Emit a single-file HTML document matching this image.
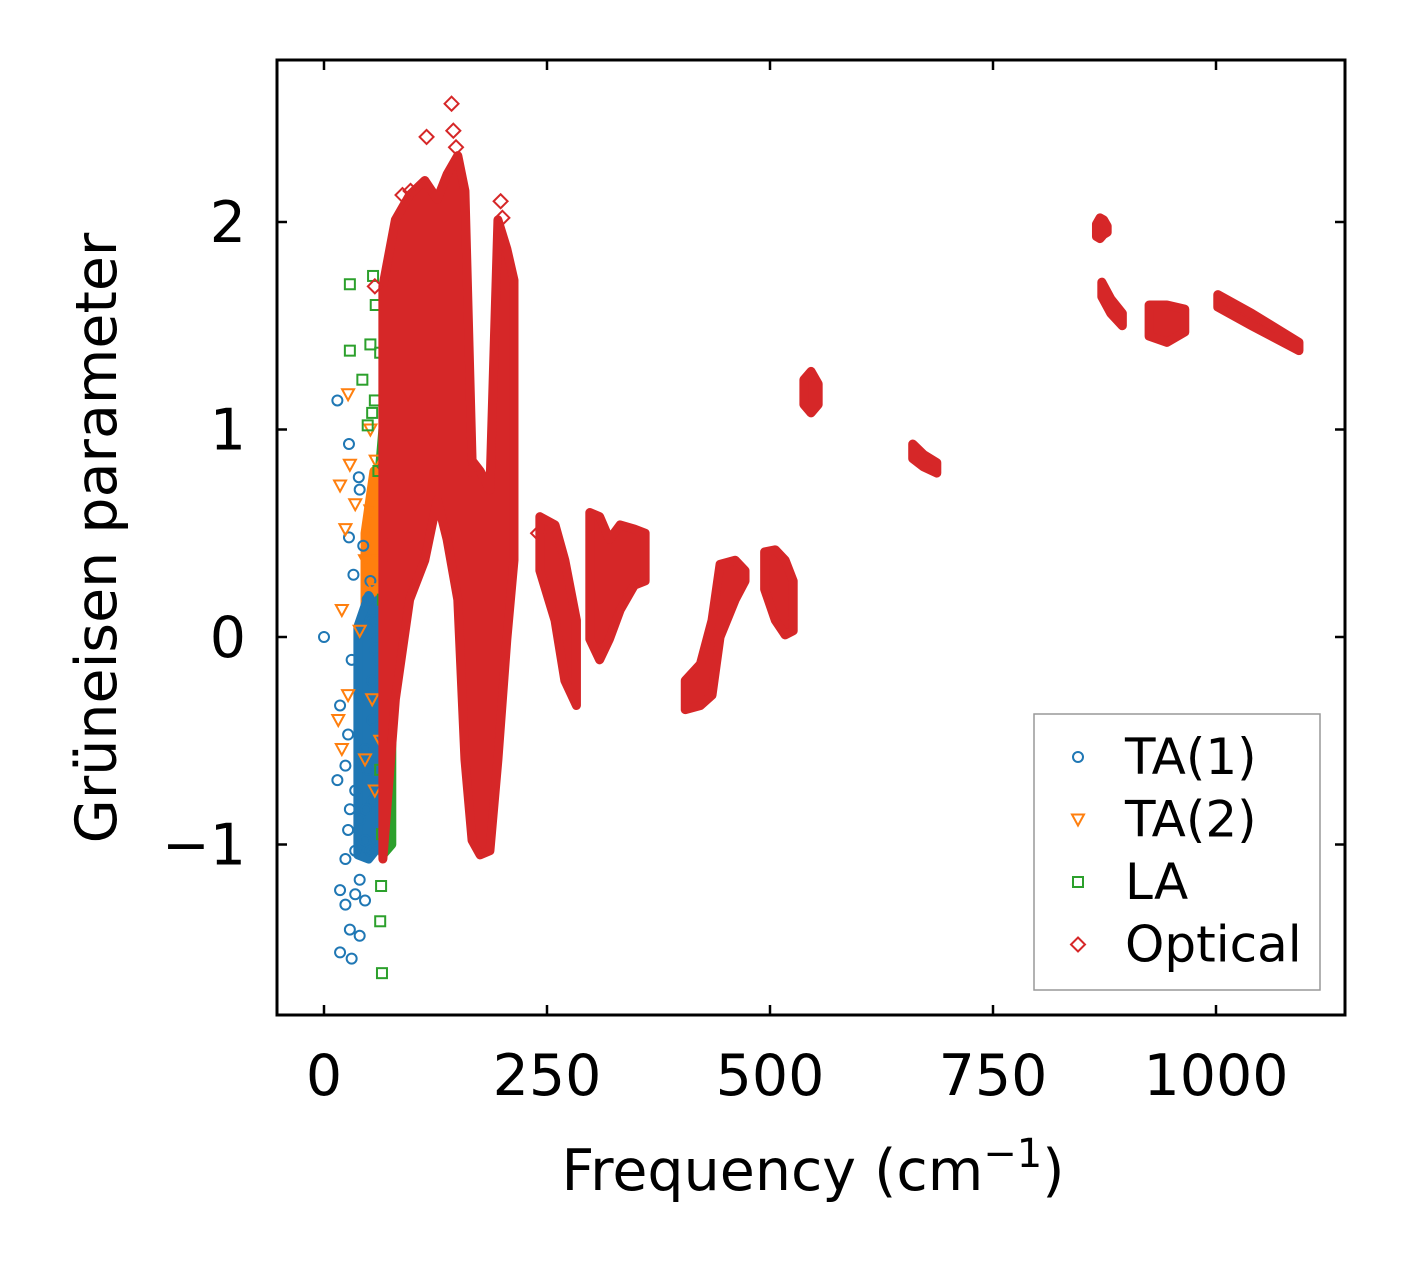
<!DOCTYPE html>
<html><head><meta charset="utf-8"><style>
body{margin:0;background:#fff}
svg text{font-family:"DejaVu Sans","Liberation Sans",sans-serif;fill:#000}
</style></head><body>
<svg id="chart" width="1406" height="1264" xmlns="http://www.w3.org/2000/svg">
<rect width="1406" height="1264" fill="#fff"/>
<g id="marks"></g>
<rect x="277" y="60" width="1068" height="955" fill="none" stroke="#000" stroke-width="3"/>
<g id="axes"></g>
<text x="813" y="1190" font-size="57" text-anchor="middle">Frequency (cm<tspan dy="-23" font-size="40">−1</tspan><tspan dy="23">)</tspan></text>
<text transform="translate(116,538) rotate(-90)" font-size="57" text-anchor="middle">Grüneisen parameter</text>
<g>
<rect x="1034" y="714" width="286" height="276" fill="#fff" stroke="#999" stroke-width="1.5"/>
<g id="legend"></g>
</g>
</svg>
<script>
const xTicks=[0,250,500,750,1000];
const yTicks=[-1,0,1,2];
const yTickLabels=["−1","0","1","2"];
const seriesNames=["TA(1)","TA(2)","LA","Optical"];
const seriesColors=["#1f77b4","#ff7f0e","#2ca02c","#d62728"];
const ta1Freq=[15,28,39,40,28,44,33,52,0,52,57,31,18,40,27,15,24,35,29,40,27,35,24,40,18,35,24,46,29,40,18,31,54,57,54,46,49,54,47,57,52,46,57,61,61,58,54,49,58];
const ta1Gam=[1.14,0.93,0.77,0.71,0.48,0.44,0.30,0.27,0,0.08,-0.06,-0.11,-0.33,-0.30,-0.47,-0.69,-0.62,-0.74,-0.83,-0.88,-0.93,-1.03,-1.07,-1.17,-1.22,-1.24,-1.29,-1.27,-1.41,-1.44,-1.52,-1.55,-0.21,-0.30,-0.40,-0.54,-0.64,-0.79,-0.83,-0.98,-1.03,-0.98,-0.74,-0.30,-0.11,-0.01,0.18,0.18,0.08];
const ta2Freq=[27,29,18,35,24,52,46,20,57,40,27,16,20,54,46,57,63,61,58,52];
const ta2Gam=[1.17,0.83,0.73,0.64,0.52,0.61,0.37,0.13,0.23,0.03,-0.28,-0.40,-0.54,-0.30,-0.59,-0.74,-0.50,0.37,0.85,1.00];
const laFreq=[29,55,58,29,52,63,43,68,57,49,72,68,68,72,68,63,65,64,63,65,54,61,72,66,70];
const laGam=[1.70,1.74,1.60,1.38,1.41,1.37,1.24,1.25,1.14,1.02,1.05,0.71,0.37,-0.01,-0.30,-0.64,-0.95,-1.20,-1.37,-1.62,1.08,0.80,0.56,0.18,-0.21];
const ta1BandFreq=[38,50,63];const ta1BandLo=[-1.05,-1.07,-1.0];const ta1BandHi=[0.05,0.2,0.15];
const ta2BandFreq=[46,56,65];const ta2BandLo=[-0.5,-0.75,-0.8];const ta2BandHi=[0.5,0.8,0.75];
const laBandFreq=[60,66,76];const laBandLo=[-0.95,-1.05,-1.0];const laBandHi=[0.7,1.0,1.05];
const optFreq1=[66,80,96,113,127,138,150,158,166,175,186,195,205,213];
const optLo1=[-1.07,-0.30,0.18,0.37,0.66,0.47,0.18,-0.59,-0.98,-1.05,-1.03,-0.59,-0.01,0.37];
const optHi1=[1.69,2.01,2.13,2.20,2.11,2.23,2.32,2.15,0.85,0.80,0.71,2.01,1.87,1.72];
const optFreq2=[242,259,270,283];const optLo2=[0.32,0.08,-0.21,-0.33];const optHi2=[0.58,0.54,0.37,0.08];
const optFreq3=[298,309,320,332,348,360];const optLo3=[-0.01,-0.11,-0.01,0.13,0.25,0.27];const optHi3=[0.60,0.58,0.47,0.54,0.52,0.50];
const optFreq4=[405,422,435,444,461,472];const optLo4=[-0.35,-0.33,-0.28,0.0,0.18,0.27];const optHi4=[-0.21,-0.13,0.08,0.35,0.37,0.32];
const optFreq5=[494,506,517,526];const optLo5=[0.23,0.08,0.01,0.03];const optHi5=[0.41,0.42,0.37,0.27];
const optFreq6=[538,546,554];const optLo6=[1.12,1.08,1.12];const optHi6=[1.24,1.28,1.22];
const optFreq7=[660,672,687];const optLo7=[0.86,0.82,0.79];const optHi7=[0.93,0.88,0.84];
const optFreq8=[866,870,874,878];const optLo8=[1.93,1.92,1.94,1.95];const optHi8=[1.99,2.02,2.01,1.98];
const optFreq9=[872,882,895];const optLo9=[1.64,1.56,1.50];const optHi9=[1.71,1.63,1.56];
const optFreq10=[925,945,965];const optLo10=[1.45,1.42,1.47];const optHi10=[1.60,1.60,1.58];
const optFreq11=[1002,1040,1093];const optLo11=[1.59,1.50,1.38];const optHi11=[1.65,1.56,1.42];
const optOutFreq=[143,115,145,148,57,198,200,88,97,165,240];
const optOutGam=[2.57,2.41,2.44,2.36,1.69,2.10,2.02,2.13,2.15,0.8,0.5];
const optBands=[[optFreq1,optLo1,optHi1],[optFreq2,optLo2,optHi2],[optFreq3,optLo3,optHi3],[optFreq4,optLo4,optHi4],[optFreq5,optLo5,optHi5],[optFreq6,optLo6,optHi6],[optFreq7,optLo7,optHi7],[optFreq8,optLo8,optHi8],[optFreq9,optLo9,optHi9],[optFreq10,optLo10,optHi10],[optFreq11,optLo11,optHi11]];

const X=f=>324+f*0.892, Y=g=>637-g*207.5;
const NS="http://www.w3.org/2000/svg";
const marks=document.getElementById('marks'), axes=document.getElementById('axes'), leg=document.getElementById('legend');
function mk(tag,attrs,parent){const e=document.createElementNS(NS,tag);for(const k in attrs)e.setAttribute(k,attrs[k]);parent.appendChild(e);return e;}
function band(fr,lo,hi,color,name){
  let pts=fr.map((f,i)=>X(f)+','+Y(hi[i]));
  for(let i=fr.length-1;i>=0;i--)pts.push(X(fr[i])+','+Y(lo[i]));
  const p=mk('polygon',{points:pts.join(' '),fill:color,stroke:color,'stroke-width':9,'stroke-linejoin':'round'},marks);
  
  
}
function marker(type,x,y,color,parent){
  let e;
  if(type==='o')e=mk('circle',{cx:x,cy:y,r:5,fill:'none',stroke:color,'stroke-width':2},parent);
  else if(type==='v')e=mk('polygon',{points:`${x-6},${y-5} ${x+6},${y-5} ${x},${y+6}`,fill:'none',stroke:color,'stroke-width':2},parent);
  else if(type==='s')e=mk('rect',{x:x-5,y:y-5,width:10,height:10,fill:'none',stroke:color,'stroke-width':2},parent);
  else e=mk('polygon',{points:`${x},${y-7} ${x+7},${y} ${x},${y+7} ${x-7},${y}`,fill:'none',stroke:color,'stroke-width':2},parent);
  return e;
}
band(laBandFreq,laBandLo,laBandHi,seriesColors[2],'la-dense-band');
band(ta2BandFreq,ta2BandLo,ta2BandHi,seriesColors[1],'ta2-dense-band');
band(ta1BandFreq,ta1BandLo,ta1BandHi,seriesColors[0],'ta1-dense-band');
ta1Freq.forEach((f,i)=>{const m=marker('o',X(f),Y(ta1Gam[i]),seriesColors[0],marks);

});
ta2Freq.forEach((f,i)=>{const m=marker('v',X(f),Y(ta2Gam[i]),seriesColors[1],marks);

});
laFreq.forEach((f,i)=>{const m=marker('s',X(f),Y(laGam[i]),seriesColors[2],marks);

});
optBands.forEach(b=>band(b[0],b[1],b[2],seriesColors[3],'optical-band'));
optOutFreq.forEach((f,i)=>{const m=marker('d',X(f),Y(optOutGam[i]),seriesColors[3],marks);

});
xTicks.forEach(t=>{const x=X(t);
 mk('line',{x1:x,y1:1015,x2:x,y2:1005,stroke:'#000','stroke-width':2.5},axes);
 mk('line',{x1:x,y1:60,x2:x,y2:70,stroke:'#000','stroke-width':2.5},axes);
 const tx=mk('text',{x:x,y:1095,'font-size':57,'text-anchor':'middle'},axes);tx.textContent=t;
 
 });
yTicks.forEach((t,i)=>{const y=Y(t);
 mk('line',{x1:277,y1:y,x2:287,y2:y,stroke:'#000','stroke-width':2.5},axes);
 mk('line',{x1:1345,y1:y,x2:1335,y2:y,stroke:'#000','stroke-width':2.5},axes);
 const tx=mk('text',{x:246,y:y+20,'font-size':57,'text-anchor':'end'},axes);tx.textContent=yTickLabels[i];
 
 });
['o','v','s','d'].forEach((t,i)=>{const y=757+i*62.5;
 const m=marker(t,1078,y,seriesColors[i],leg);
 
 
 const tx=mk('text',{x:1125,y:y+17,'font-size':50},leg);tx.textContent=seriesNames[i];
 
 });
</script>
</body></html>
